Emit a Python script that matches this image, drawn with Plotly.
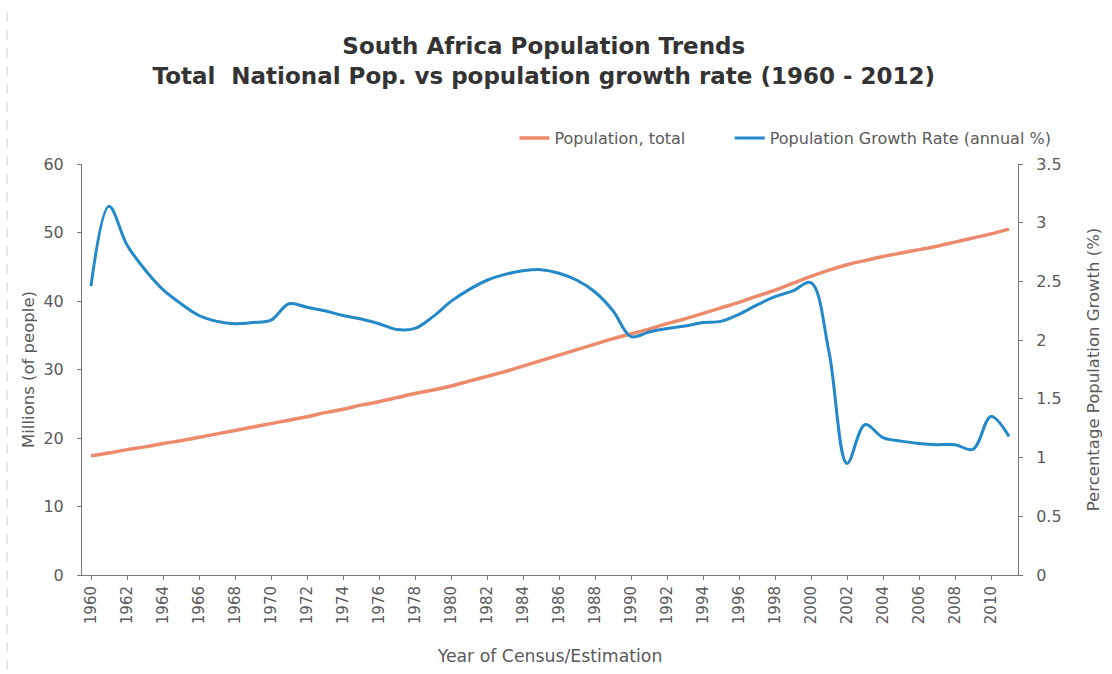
import plotly.graph_objects as go

# ── data ─────────────────────────────────────────────────────────────────────
years = [str(y) for y in range(1960, 2012)]

population_m = [
    17.4, 17.8, 18.3, 18.7, 19.2, 19.6, 20.1, 20.6, 21.1, 21.6,
    22.1, 22.6, 23.1, 23.7, 24.2, 24.8, 25.3, 25.9, 26.5, 27.0,
    27.6, 28.3, 29.0, 29.7, 30.5, 31.3, 32.1, 32.9, 33.7, 34.5,
    35.2, 35.9, 36.7, 37.4, 38.2, 39.0, 39.8, 40.7, 41.6, 42.6,
    43.6, 44.5, 45.3, 45.9, 46.5, 47.0, 47.5, 48.0, 48.6, 49.2,
    49.8, 50.5,
]

growth_rate = [
    2.46, 3.14, 2.81, 2.60, 2.43, 2.31, 2.21, 2.16, 2.14, 2.15,
    2.17, 2.31, 2.28, 2.25, 2.21, 2.18, 2.14, 2.09, 2.10, 2.20,
    2.33, 2.43, 2.51, 2.56, 2.59, 2.60, 2.57, 2.51, 2.41, 2.25,
    2.03, 2.07, 2.10, 2.12, 2.15, 2.16, 2.22, 2.30, 2.37, 2.42,
    2.49, 1.90, 0.95, 1.28, 1.17, 1.14, 1.12, 1.11, 1.11, 1.07,
    1.35, 1.18,
]

ORANGE = "#EE8A6C"
BLUE = "#2389C9"
GREY = "#5a5a5a"
AXIS = "#777777"
FONT = "DejaVu Sans"

fig = go.Figure()

fig.add_trace(go.Scatter(
    x=years, y=population_m,
    name="Population, total",
    mode="lines",
    line=dict(color=ORANGE, width=3.5, shape="spline"),
    legend="legend",
))

fig.add_trace(go.Scatter(
    x=years, y=growth_rate,
    name="Population Growth Rate (annual %)",
    mode="lines",
    line=dict(color=BLUE, width=3, shape="spline"),
    yaxis="y2",
    legend="legend2",
))

# ── layout ───────────────────────────────────────────────────────────────────
legend_style = dict(
    orientation="h",
    xanchor="left",
    y=1.063, yanchor="middle",
    font=dict(family=FONT, size=16, color=GREY),
    itemwidth=30,
    bgcolor="rgba(0,0,0,0)",
)

fig.update_layout(
    width=1112, height=674,
    paper_bgcolor="white",
    plot_bgcolor="white",
    margin=dict(l=82, r=94, t=164, b=96),
    font=dict(family=FONT, size=14, color=GREY),
    title=dict(
        text="<b>South Africa Population Trends<br>"
             "Total  National Pop. vs population growth rate (1960 - 2012)</b>",
        x=0.489, xanchor="center",
        y=0.92, yanchor="top",
        font=dict(family=FONT, size=23, color="#333333"),
    ),
    showlegend=True,
    legend=dict(x=0.462, **legend_style),
    legend2=dict(x=0.692, **legend_style),
    xaxis=dict(
        type="category",
        tickmode="array",
        tickvals=years[::2],
        ticktext=years[::2],
        tickangle=-90,
        tickfont=dict(size=15, color=GREY),
        ticks="outside", ticklen=4, tickcolor=AXIS,
        showline=True, linecolor=AXIS, linewidth=1,
        showgrid=False,
        title=dict(text="Year of Census/Estimation", standoff=26,
                   font=dict(size=17.3, color=GREY)),
        range=[-0.5, len(years) - 0.5],
    ),
    yaxis=dict(
        range=[0, 60], dtick=10,
        ticks="outside", ticklen=4, tickcolor=AXIS,
        ticklabelstandoff=10,
        showline=True, linecolor=AXIS, linewidth=1,
        showgrid=False, zeroline=False,
        tickfont=dict(size=16, color=GREY),
        title=dict(text="Millions (of people)", standoff=4,
                   font=dict(size=16.5, color=GREY)),
    ),
    yaxis2=dict(
        range=[0, 3.5], dtick=0.5,
        overlaying="y", side="right",
        ticks="outside", ticklen=4, tickcolor=AXIS,
        ticklabelstandoff=10,
        showline=True, linecolor=AXIS, linewidth=1,
        showgrid=False, zeroline=False,
        tickfont=dict(size=16, color=GREY),
        title=dict(text="Percentage Population Growth (%)", standoff=26,
                   font=dict(size=16.5, color=GREY)),
    ),
)

# faint dashed frame edge, like the scanned original
fig.add_shape(
    type="line", xref="paper", yref="paper",
    x0=-0.08, x1=-0.08, y0=-0.23, y1=1.39,
    line=dict(color="#cccccc", width=1, dash="dash"),
)

# the page gets no body margin so the figure sits at the window's corner
fig.write_html("out.html",
               config={"displayModeBar": False},
               post_script="document.body.style.margin='0';")
